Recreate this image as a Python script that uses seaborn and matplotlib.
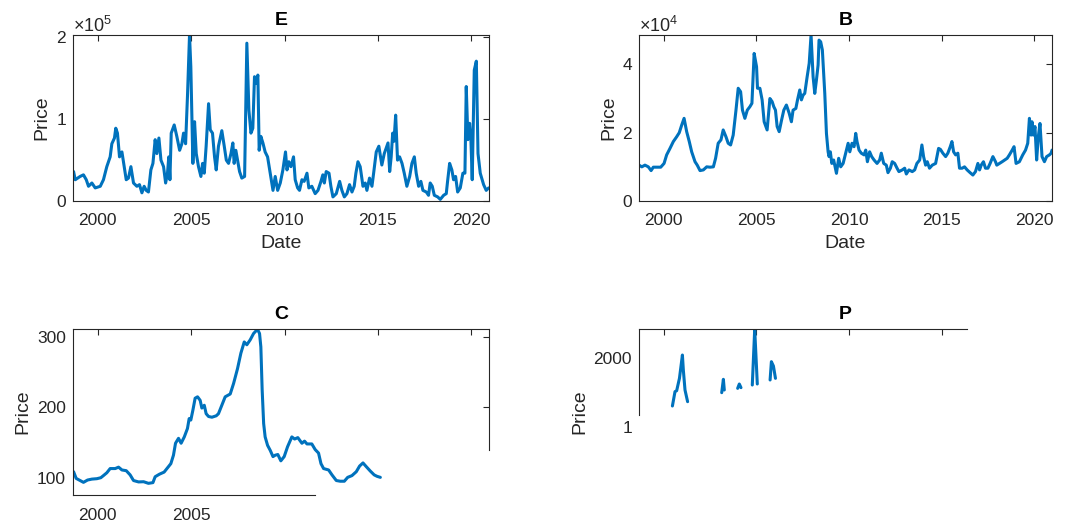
import numpy as np
import pandas as pd
import seaborn as sns
import matplotlib.pyplot as plt

# values (decimal year, price)
e_year = [1998.70, 1998.79, 1999.05, 1999.23, 1999.38, 1999.50, 1999.68, 1999.86, 2000.13, 2000.30,
          2000.48, 2000.66, 2000.75, 2000.89, 2000.96, 2001.05, 2001.16, 2001.29, 2001.41, 2001.52,
          2001.64, 2001.77, 2001.91, 2002.09, 2002.23, 2002.36, 2002.48, 2002.59, 2002.71, 2002.84,
          2002.95, 2003.07, 2003.16, 2003.27, 2003.38, 2003.52, 2003.63, 2003.73, 2003.80, 2003.86,
          2003.93, 2004.09, 2004.23, 2004.38, 2004.50, 2004.59, 2004.70, 2004.80, 2004.91, 2004.98,
          2005.09, 2005.18, 2005.27, 2005.39, 2005.52, 2005.61, 2005.70, 2005.80, 2005.93, 2006.02,
          2006.14, 2006.25, 2006.34, 2006.46, 2006.64, 2006.77, 2006.88, 2007.00, 2007.13, 2007.23,
          2007.30, 2007.39, 2007.48, 2007.59, 2007.71, 2007.86, 2007.98, 2008.09, 2008.20, 2008.30,
          2008.39, 2008.48, 2008.57, 2008.64, 2008.73, 2008.84, 2008.96, 2009.09, 2009.23, 2009.38,
          2009.50, 2009.63, 2009.77, 2009.91, 2010.05, 2010.13, 2010.23, 2010.34, 2010.48, 2010.57,
          2010.70, 2010.80, 2010.93, 2011.05, 2011.20, 2011.30, 2011.46, 2011.64, 2011.79, 2011.95,
          2012.05, 2012.13, 2012.23, 2012.38, 2012.48, 2012.59, 2012.77, 2012.95, 2013.07, 2013.20,
          2013.34, 2013.48, 2013.61, 2013.73, 2013.82, 2013.93, 2014.05, 2014.20, 2014.32, 2014.41,
          2014.55, 2014.68, 2014.77, 2014.91, 2015.05, 2015.21, 2015.34, 2015.45, 2015.54, 2015.63,
          2015.71, 2015.79, 2015.86, 2015.95, 2016.05, 2016.16, 2016.29, 2016.41, 2016.55, 2016.70,
          2016.82, 2016.95, 2017.05, 2017.18, 2017.30, 2017.41, 2017.59, 2017.71, 2017.80, 2017.91,
          2018.02, 2018.20, 2018.34, 2018.52, 2018.66, 2018.73, 2018.84, 2018.96, 2019.05, 2019.16,
          2019.27, 2019.41, 2019.55, 2019.66, 2019.73, 2019.82, 2019.91, 2019.98, 2020.05, 2020.16,
          2020.27, 2020.36, 2020.48, 2020.66, 2020.80, 2020.93]
e_price_1e5 = [0.36, 0.26, 0.30, 0.32, 0.26, 0.18, 0.22, 0.16, 0.18, 0.26,
               0.42, 0.54, 0.70, 0.77, 0.89, 0.83, 0.54, 0.60, 0.42, 0.26,
               0.28, 0.42, 0.22, 0.18, 0.20, 0.10, 0.18, 0.13, 0.11, 0.38,
               0.46, 0.75, 0.58, 0.77, 0.50, 0.42, 0.22, 0.34, 0.54, 0.26,
               0.83, 0.93, 0.79, 0.62, 0.70, 0.83, 0.70, 1.28, 2.03, 1.64,
               0.46, 0.97, 0.58, 0.42, 0.30, 0.46, 0.34, 0.67, 1.19, 0.87,
               0.83, 0.54, 0.38, 0.67, 0.86, 0.67, 0.50, 0.46, 0.58, 0.71,
               0.46, 0.62, 0.50, 0.36, 0.28, 0.30, 1.93, 1.11, 0.83, 0.89,
               1.52, 1.44, 1.54, 0.62, 0.79, 0.71, 0.60, 0.54, 0.34, 0.13,
               0.30, 0.13, 0.22, 0.38, 0.60, 0.38, 0.48, 0.42, 0.54, 0.26,
               0.16, 0.13, 0.26, 0.24, 0.34, 0.16, 0.18, 0.09, 0.13, 0.24,
               0.32, 0.22, 0.36, 0.34, 0.18, 0.05, 0.09, 0.24, 0.13, 0.05,
               0.09, 0.20, 0.11, 0.18, 0.34, 0.48, 0.42, 0.18, 0.22, 0.13,
               0.28, 0.18, 0.34, 0.60, 0.67, 0.44, 0.58, 0.65, 0.71, 0.36,
               0.54, 0.83, 0.73, 1.05, 0.50, 0.54, 0.46, 0.34, 0.18, 0.30,
               0.46, 0.54, 0.34, 0.18, 0.24, 0.13, 0.11, 0.07, 0.22, 0.18,
               0.07, 0.05, 0.02, 0.07, 0.09, 0.24, 0.46, 0.38, 0.26, 0.30,
               0.11, 0.16, 0.34, 0.34, 1.40, 0.75, 0.95, 0.75, 0.26, 1.60,
               1.71, 0.58, 0.34, 0.20, 0.13, 0.16]

b_year = [1998.67, 1998.82, 1998.99, 1999.17, 1999.32, 1999.44, 1999.62, 1999.84, 2000.02, 2000.16,
          2000.34, 2000.52, 2000.70, 2000.84, 2000.97, 2001.10, 2001.24, 2001.38, 2001.51, 2001.69,
          2001.81, 2001.96, 2002.14, 2002.32, 2002.50, 2002.68, 2002.80, 2002.94, 2003.09, 2003.21,
          2003.36, 2003.48, 2003.61, 2003.75, 2003.90, 2004.02, 2004.15, 2004.25, 2004.38, 2004.51,
          2004.65, 2004.76, 2004.88, 2005.01, 2005.06, 2005.19, 2005.31, 2005.42, 2005.58, 2005.73,
          2005.85, 2005.94, 2006.03, 2006.12, 2006.23, 2006.36, 2006.48, 2006.62, 2006.77, 2006.89,
          2006.98, 2007.13, 2007.22, 2007.34, 2007.43, 2007.52, 2007.61, 2007.74, 2007.85, 2007.95,
          2008.06, 2008.15, 2008.24, 2008.33, 2008.38, 2008.47, 2008.56, 2008.69, 2008.78, 2008.87,
          2008.92, 2008.99, 2009.07, 2009.17, 2009.26, 2009.32, 2009.44, 2009.55, 2009.68, 2009.82,
          2009.95, 2010.04, 2010.16, 2010.27, 2010.36, 2010.43, 2010.54, 2010.66, 2010.81, 2010.90,
          2010.99, 2011.11, 2011.22, 2011.35, 2011.51, 2011.65, 2011.74, 2011.87, 2012.01, 2012.10,
          2012.23, 2012.33, 2012.46, 2012.59, 2012.69, 2012.87, 2013.00, 2013.09, 2013.23, 2013.41,
          2013.54, 2013.66, 2013.81, 2013.93, 2014.02, 2014.13, 2014.22, 2014.34, 2014.49, 2014.67,
          2014.83, 2014.93, 2015.06, 2015.21, 2015.33, 2015.46, 2015.55, 2015.64, 2015.75, 2015.87,
          2015.96, 2016.10, 2016.23, 2016.37, 2016.53, 2016.68, 2016.82, 2016.95, 2017.04, 2017.13,
          2017.25, 2017.36, 2017.49, 2017.61, 2017.76, 2017.90, 2017.97, 2018.12, 2018.26, 2018.39,
          2018.53, 2018.65, 2018.80, 2018.90, 2019.01, 2019.19, 2019.37, 2019.52, 2019.64, 2019.73,
          2019.82, 2019.87, 2019.94, 2020.03, 2020.12, 2020.21, 2020.30, 2020.41, 2020.54, 2020.66,
          2020.81, 2020.90, 2020.95]
b_price_1e4 = [1.05, 1.00, 1.05, 1.00, 0.89, 0.99, 0.99, 0.99, 1.10, 1.35,
               1.54, 1.74, 1.88, 2.00, 2.22, 2.42, 2.03, 1.74, 1.44, 1.15,
               1.05, 0.89, 0.91, 1.00, 0.99, 1.00, 1.25, 1.69, 1.79, 2.08,
               1.88, 1.69, 1.64, 1.93, 2.66, 3.30, 3.20, 2.66, 2.42, 2.66,
               2.76, 2.86, 4.32, 3.93, 3.30, 3.30, 2.96, 2.32, 2.08, 3.00,
               2.91, 2.76, 2.66, 2.18, 2.03, 2.37, 2.66, 2.81, 2.57, 2.32,
               2.66, 2.71, 2.96, 3.25, 2.96, 3.10, 3.15, 3.64, 4.03, 4.86,
               3.64, 3.15, 3.54, 3.98, 4.71, 4.66, 4.42, 3.15, 1.98, 1.44,
               1.30, 1.44, 1.10, 1.20, 0.96, 0.81, 1.25, 1.00, 1.10, 1.40,
               1.69, 1.44, 1.69, 1.59, 1.98, 1.74, 1.49, 1.40, 1.35, 1.49,
               1.15, 1.44, 1.30, 1.20, 1.10, 1.20, 1.40, 1.10, 1.05, 0.83,
               0.96, 1.15, 1.10, 0.96, 0.86, 0.91, 0.96, 0.79, 0.91, 0.86,
               0.91, 1.10, 1.20, 1.64, 1.30, 1.05, 1.15, 0.96, 1.05, 1.10,
               1.54, 1.51, 1.40, 1.30, 1.40, 1.59, 1.74, 1.44, 1.35, 1.40,
               0.96, 0.96, 1.00, 0.91, 0.83, 0.76, 0.86, 1.10, 0.91, 1.05,
               1.15, 0.96, 0.96, 1.10, 1.30, 1.15, 1.05, 1.10, 1.15, 1.20,
               1.25, 1.35, 1.49, 1.59, 1.10, 1.15, 1.35, 1.49, 1.69, 2.42,
               1.93, 2.32, 1.93, 2.18, 1.20, 1.88, 2.27, 1.30, 1.15, 1.30,
               1.35, 1.40, 1.49]

c_year = [1998.70, 1998.84, 1999.05, 1999.23, 1999.45, 1999.68, 1999.95, 2000.16, 2000.30, 2000.48,
          2000.66, 2000.93, 2001.11, 2001.29, 2001.52, 2001.73, 2001.91, 2002.18, 2002.45, 2002.71,
          2002.95, 2003.07, 2003.30, 2003.55, 2003.70, 2003.91, 2004.05, 2004.16, 2004.32, 2004.46,
          2004.63, 2004.80, 2004.89, 2004.98, 2005.09, 2005.21, 2005.34, 2005.48, 2005.57, 2005.70,
          2005.80, 2005.93, 2006.11, 2006.34, 2006.46, 2006.64, 2006.82, 2007.09, 2007.27, 2007.48,
          2007.66, 2007.84, 2007.98, 2008.16, 2008.34, 2008.55, 2008.66, 2008.73, 2008.80, 2008.88,
          2008.96, 2009.09, 2009.23, 2009.38, 2009.50, 2009.64, 2009.80, 2009.98, 2010.16, 2010.39,
          2010.54, 2010.71, 2010.93, 2011.07, 2011.20, 2011.46, 2011.64, 2011.82, 2011.95, 2012.09,
          2012.36, 2012.54, 2012.77, 2012.98, 2013.20, 2013.38, 2013.61, 2013.84, 2014.02, 2014.20,
          2014.38, 2014.59, 2014.80, 2014.95, 2015.13]
c_price = [108.5, 99, 96, 93.4, 96.7, 98, 98.6, 100, 103, 107,
           113, 113, 115, 111, 110, 104, 96, 94, 94.3, 92,
           93, 101.4, 105, 108, 113, 120, 132, 149, 156, 149,
           158, 170, 184, 182, 196, 213, 215, 210, 199, 203,
           191, 187, 186, 188, 191, 203, 215, 219, 234, 255,
           277, 293, 289, 296, 305, 311, 305, 286, 225, 177,
           158, 146, 139, 130, 132, 133, 124, 130, 144, 158,
           155, 157, 149, 152, 148, 148, 140, 135, 120, 113,
           111, 104, 96, 95, 95, 100.5, 103, 108.5, 116.6, 121,
           115.6, 109.5, 104, 102, 100.5]

# P only shows a few broken pieces of line
p_year = [2000.47, 2000.61, 2000.70, 2000.85, 2001.01, 2001.06, 2001.15, 2001.29,
          2003.13, 2003.22, 2003.27,
          2003.99, 2004.08, 2004.17,
          2004.78, 2004.91, 2004.98, 2005.05,
          2005.74, 2005.81, 2005.92, 2006.03]
p_price = [614, 1025, 1053, 1407, 2076, 1646, 1073, 738,
           996, 1379, 1073,
           1120, 1245, 1140,
           1216, 2813, 2028, 1245,
           1360, 1885, 1760, 1407]
p_piece = [0] * 8 + [1] * 3 + [2] * 3 + [3] * 4 + [4] * 4

x_ticks = [2000, 2005, 2010, 2015, 2020]
x_lim = (1998.67, 2020.95)
line_color = '#0072BD'
ink = '#262626'

sns.set_style('white')
plt.rcParams['font.family'] = ['Liberation Sans', 'DejaVu Sans']
plt.rcParams['mathtext.fontset'] = 'custom'
plt.rcParams['mathtext.rm'] = 'Liberation Sans'

df_e = pd.DataFrame({'Date': e_year, 'Price': np.array(e_price_1e5) * 1e5})
df_b = pd.DataFrame({'Date': b_year, 'Price': np.array(b_price_1e4) * 1e4})
df_c = pd.DataFrame({'Date': c_year, 'Price': c_price})
df_p = pd.DataFrame({'Date': p_year, 'Price': p_price, 'piece': p_piece})

fig = plt.figure(figsize=(10.8, 5.27), dpi=100)
ax_e = fig.add_axes([0.0676, 0.6186, 0.3852, 0.315])
ax_b = fig.add_axes([0.5917, 0.6186, 0.3824, 0.315])
ax_c = fig.add_axes([0.0676, 0.0607, 0.3852, 0.315])
ax_p = fig.add_axes([0.5917, 0.0607, 0.3824, 0.315])


def matlab_look(ax, title, xlabel):
    for s in ax.spines.values():
        s.set_visible(True)
        s.set_color(ink)
        s.set_linewidth(0.8)
    ax.tick_params(direction='in', length=4, width=0.8, colors=ink, labelcolor=ink,
                   labelsize=12.5, top=True, right=True, pad=5)
    ax.tick_params(axis='x', pad=9)
    ax.set_title(title, fontsize=14, fontweight='bold', color='black', pad=7)
    ax.set_xlabel(xlabel, fontsize=14, color=ink, labelpad=5)
    ax.set_ylabel('Price', fontsize=14, color=ink)
    ax.set_xlim(*x_lim)
    ax.set_xticks(x_ticks)
    ax.set_xticklabels([str(t) for t in x_ticks])


sns.lineplot(data=df_e, x='Date', y='Price', ax=ax_e, color=line_color, linewidth=2.2)
matlab_look(ax_e, 'E', 'Date')
ax_e.set_ylim(0, 2.03e5)
ax_e.set_yticks([0, 1e5, 2e5])
ax_e.set_yticklabels(['0', '1', '2'])
ax_e.text(0.0, 1.02, r'$\times10^{5}$', transform=ax_e.transAxes, fontsize=13, color=ink)

sns.lineplot(data=df_b, x='Date', y='Price', ax=ax_b, color=line_color, linewidth=2.2)
matlab_look(ax_b, 'B', 'Date')
ax_b.set_ylim(0, 4.86e4)
ax_b.set_yticks([0, 2e4, 4e4])
ax_b.set_yticklabels(['0', '2', '4'])
ax_b.text(0.0, 1.02, r'$\times10^{4}$', transform=ax_b.transAxes, fontsize=13, color=ink)

# C: half-drawn axes box
sns.lineplot(data=df_c, x='Date', y='Price', ax=ax_c, color=line_color, linewidth=2.2)
matlab_look(ax_c, 'C', '')
ax_c.set_ylim(75.4, 311.4)
ax_c.set_yticks([100, 200, 300])
ax_c.spines['bottom'].set_bounds(x_lim[0], 2011.64)
ax_c.spines['right'].set_bounds(139.3, 311.4)
for i, tk in enumerate(ax_c.xaxis.get_major_ticks()):
    if i >= 2:
        tk.label1.set_visible(False)
    if i >= 3:
        tk.tick1line.set_visible(False)
ax_c.yaxis.get_major_ticks()[0].tick2line.set_visible(False)

# P: only the top and left edges survive
sns.lineplot(data=df_p, x='Date', y='Price', ax=ax_p, units='piece', estimator=None,
             color=line_color, linewidth=2.2)
matlab_look(ax_p, 'P', '')
ax_p.set_xticks(x_ticks[:4])
ax_p.set_ylim(-1939, 2822)
ax_p.set_yticks([1, 2000])
ax_p.set_yticklabels(['1', '2000'])
ax_p.spines['bottom'].set_visible(False)
ax_p.spines['right'].set_visible(False)
ax_p.spines['top'].set_bounds(x_lim[0], 2016.35)
ax_p.spines['left'].set_bounds(356, 2822)
ax_p.tick_params(bottom=False, labelbottom=False, right=False)
ax_p.yaxis.get_major_ticks()[0].tick1line.set_visible(False)

fig.savefig('out.png', dpi=100)
